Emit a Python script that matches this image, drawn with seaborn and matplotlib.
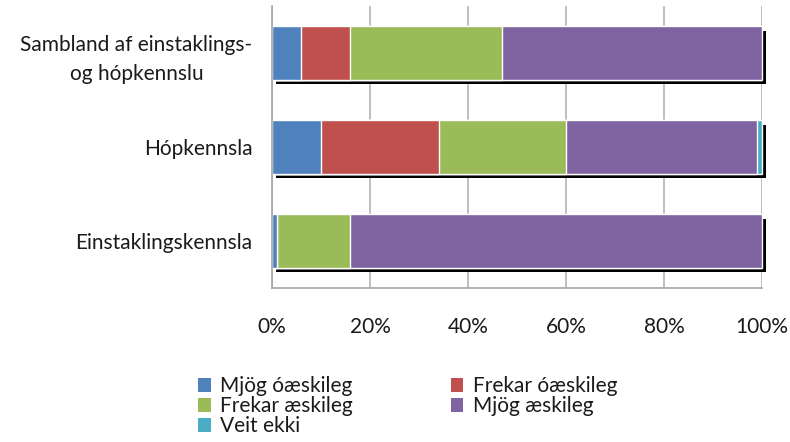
import matplotlib
matplotlib.use("Agg")
import matplotlib.pyplot as plt
import matplotlib.patheffects as pe
from matplotlib.patches import Patch
import numpy as np
import pandas as pd
import seaborn as sns

# categories (top to bottom) and answer share in percent
categories = ["Sambland af einstaklings-\nog hópkennslu", "Hópkennsla", "Einstaklingskennsla"]
answers = ["Mjög óæskileg", "Frekar óæskileg", "Frekar æskileg", "Mjög æskileg", "Veit ekki"]
mjog_oaeskileg = [6, 10, 1]
frekar_oaeskileg = [10, 24, 0]
frekar_aeskileg = [31, 26, 15]
mjog_aeskileg = [53, 39, 84]
veit_ekki = [0, 1, 0]
colors = ["#4F81BD", "#C0504D", "#9BBB59", "#8064A2", "#4BACC6"]

df = pd.DataFrame({"cat": categories,
                   answers[0]: mjog_oaeskileg,
                   answers[1]: frekar_oaeskileg,
                   answers[2]: frekar_aeskileg,
                   answers[3]: mjog_aeskileg,
                   answers[4]: veit_ekki})
cum = df[answers].cumsum(axis=1)

sns.set_style("white")
plt.rcParams["font.family"] = ["Lato", "DejaVu Sans"]

fig = plt.figure(figsize=(7.9, 4.42), dpi=100)
ax = fig.add_axes([272 / 790, 1 - 288 / 442, 490 / 790, 282 / 442])

# draw cumulative bars from the longest to the shortest so they look stacked
for i in range(len(answers) - 1, -1, -1):
    sns.barplot(x=cum[answers[i]], y=df["cat"], orient="h", color=colors[i],
                saturation=1, width=0.565, edgecolor="white", linewidth=1, ax=ax)
    if i == len(answers) - 1:
        for p in ax.patches:
            p.set_clip_on(False)
            p.set_path_effects([pe.SimplePatchShadow(offset=(3, -3), shadow_rgbFace="black",
                                                     alpha=1.0), pe.Normal()])

ax.set_xlim(0, 100)
ax.set_ylim(2.5, -0.5)
ax.set_xticks(np.arange(0, 101, 20))
ax.set_xticklabels([f"{v}%" for v in range(0, 101, 20)])
ax.xaxis.grid(True, color="#b3b3b3", linewidth=1.2)
ax.set_axisbelow(True)
ax.set_xlabel("")
ax.set_ylabel("")
for s in ["top", "right"]:
    ax.spines[s].set_visible(False)
for s in ["left", "bottom"]:
    ax.spines[s].set_color("#a6a6a6")
    ax.spines[s].set_linewidth(1.2)
ax.tick_params(axis="x", length=0, pad=21, labelsize=15, labelcolor="#1a1a1a")
ax.tick_params(axis="y", length=0, pad=14, labelsize=15, labelcolor="#1a1a1a")
for lab in ax.get_yticklabels():
    lab.set_multialignment("center")
    lab.set_linespacing(1.55)

handles = [Patch(facecolor=c, edgecolor="none") for c in colors]
order = [0, 2, 4, 1, 3]
fig.legend([handles[k] for k in order], [answers[k] for k in order],
           loc="upper left", bbox_to_anchor=(188 / 790, 1 - 366 / 442), ncol=2,
           frameon=False, fontsize=15, handlelength=0.6, handleheight=0.6,
           handletextpad=0.45, columnspacing=4.7, labelspacing=0.0, borderpad=0,
           labelcolor="#1a1a1a")

fig.savefig("out.png", dpi=100)
